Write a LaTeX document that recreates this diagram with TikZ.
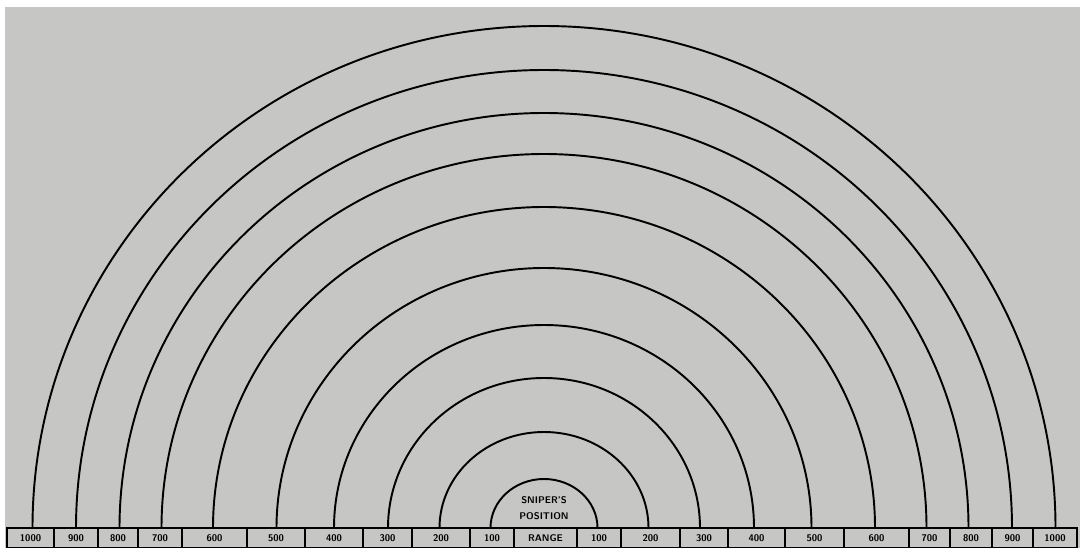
\documentclass[tikz,border=0pt]{standalone}
\usetikzlibrary{positioning}
\definecolor{paper}{RGB}{198,199,197}

\begin{document}
\begin{tikzpicture}[
  font=\sffamily,
  ring/.style={draw=black, line width=1.1pt},
  cell/.style={
    draw=black, line width=0.9pt, inner sep=0pt, outer sep=0pt,
    minimum height=0.39cm,
    font=\sffamily\bfseries\fontsize{5.5}{6}\selectfont
  },
  sniperlabel/.style={align=center, inner sep=0pt,
    font=\sffamily\bfseries\fontsize{5.5}{9}\selectfont
  },
]
\useasboundingbox (0,0) rectangle (21.6,10.96);
\fill[paper] (0.1,0) rectangle (21.6,10.82);

% range scale along the bottom
\node[cell, minimum width=0.94cm, anchor=south west] (l10) at (0.14,0.01) {1000};
\node[cell, minimum width=0.88cm, right=0pt of l10] (l9) {900};
\node[cell, minimum width=0.80cm, right=0pt of l9] (l8) {800};
\node[cell, minimum width=0.88cm, right=0pt of l8] (l7) {700};
\node[cell, minimum width=1.30cm, right=0pt of l7] (l6) {600};
\node[cell, minimum width=1.16cm, right=0pt of l6] (l5) {500};
\node[cell, minimum width=1.16cm, right=0pt of l5] (l4) {400};
\node[cell, minimum width=0.98cm, right=0pt of l4] (l3) {300};
\node[cell, minimum width=1.16cm, right=0pt of l3] (l2) {200};
\node[cell, minimum width=0.88cm, right=0pt of l2] (l1) {100};
\node[cell, minimum width=1.26cm, right=0pt of l1] (range) {RANGE};
\node[cell, minimum width=0.88cm, right=0pt of range] (r1) {100};
\node[cell, minimum width=1.18cm, right=0pt of r1] (r2) {200};
\node[cell, minimum width=0.96cm, right=0pt of r2] (r3) {300};
\node[cell, minimum width=1.14cm, right=0pt of r3] (r4) {400};
\node[cell, minimum width=1.18cm, right=0pt of r4] (r5) {500};
\node[cell, minimum width=1.30cm, right=0pt of r5] (r6) {600};
\node[cell, minimum width=0.82cm, right=0pt of r6] (r7) {700};
\node[cell, minimum width=0.84cm, right=0pt of r7] (r8) {800};
\node[cell, minimum width=0.82cm, right=0pt of r8] (r9) {900};
\node[cell, minimum width=0.88cm, right=0pt of r9] (r10) {1000};

% sniper at the centre of the rings
\coordinate (base) at (10.88,0.40);
\node[sniperlabel] (sniper) at (10.88,0.79) {SNIPER'S\\POSITION};

% range rings, 100 to 1000
\foreach \rx/\ry in {1.07/0.98, 2.09/1.92, 3.12/3.00, 4.20/4.06, 5.35/5.20,
                     6.62/6.42, 7.65/7.48, 8.49/8.30, 9.36/9.16, 10.23/10.04}
  \draw[ring] ([xshift=-\rx cm]base) arc[start angle=180, end angle=0,
                                           x radius=\rx, y radius=\ry];

\end{tikzpicture}
\end{document}
